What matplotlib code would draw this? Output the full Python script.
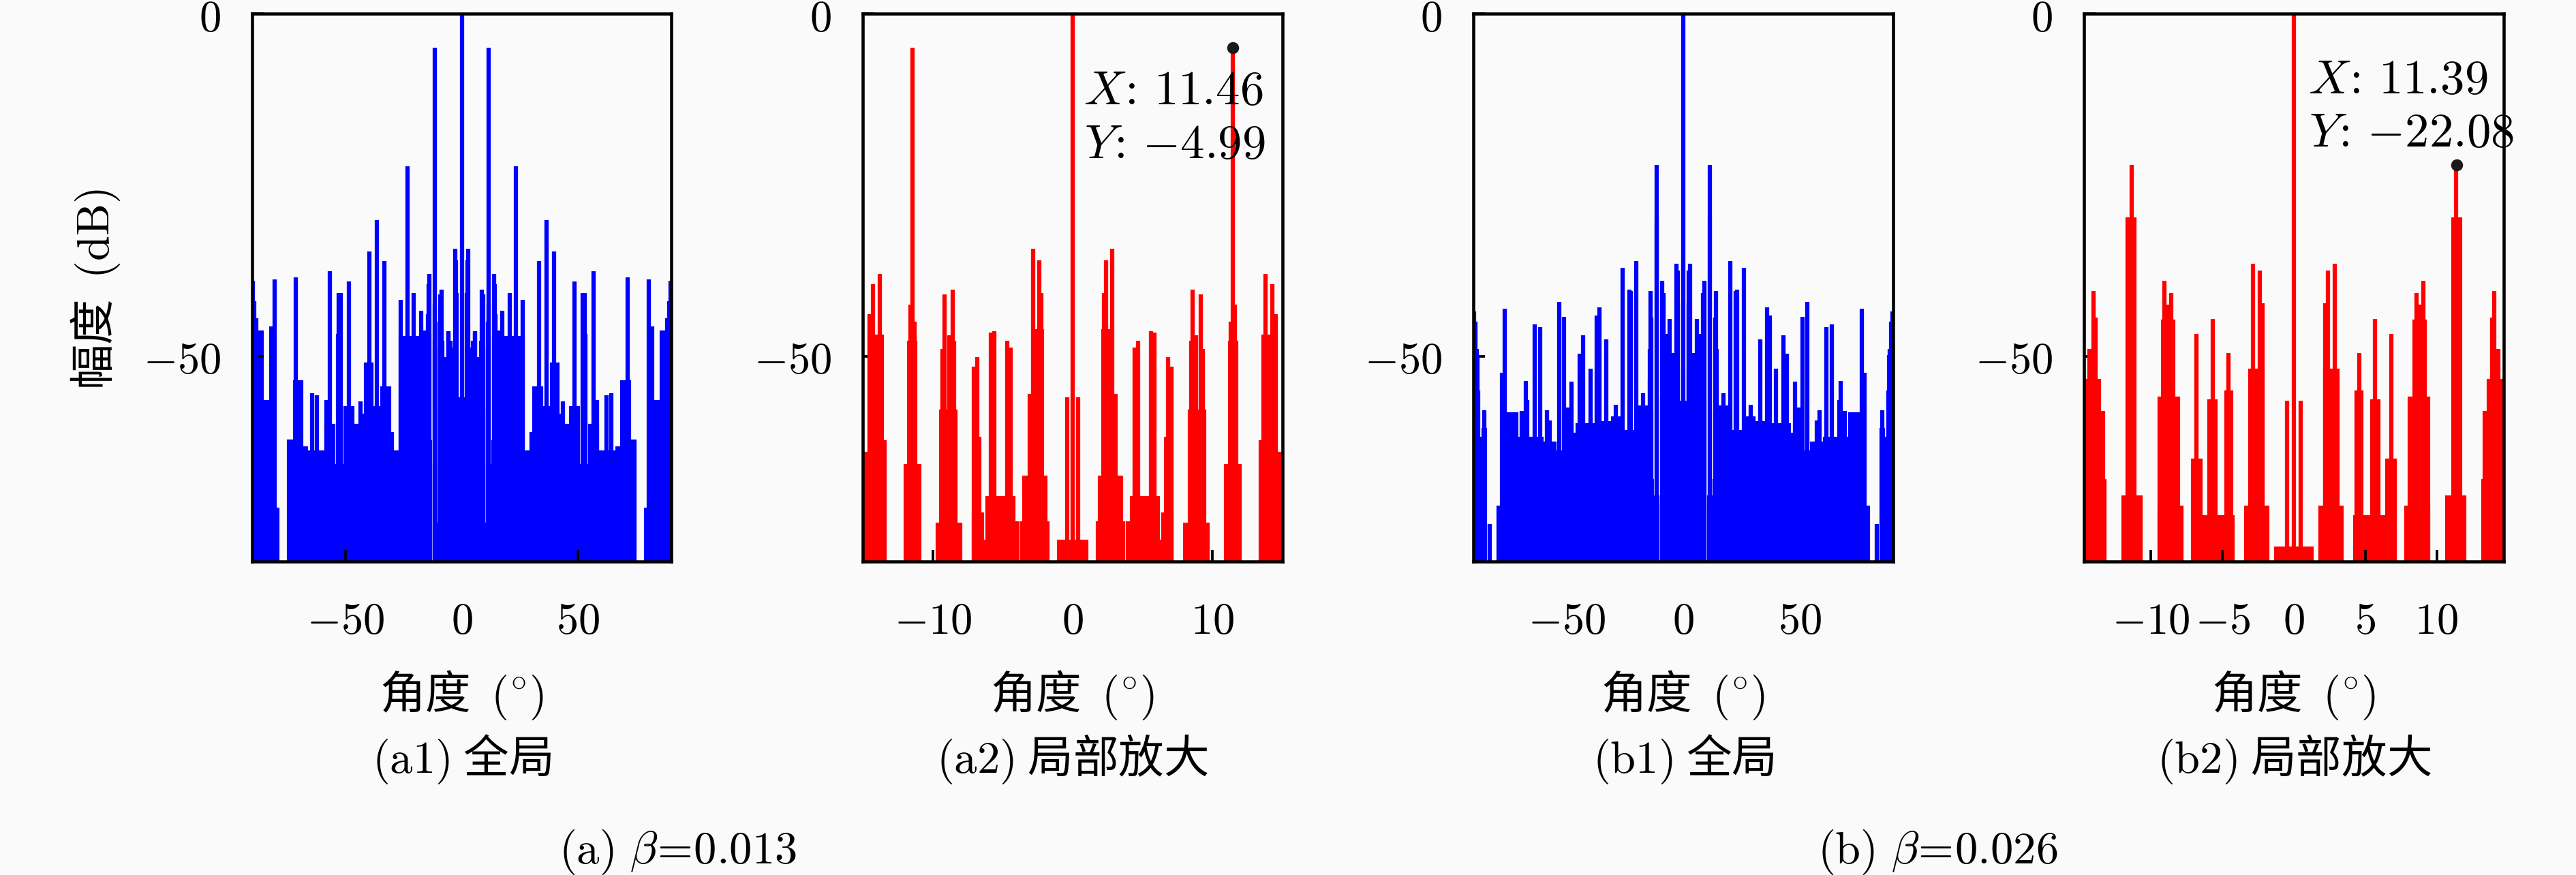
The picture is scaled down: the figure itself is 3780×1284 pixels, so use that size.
import numpy as np
import matplotlib
matplotlib.use('Agg')
import matplotlib.pyplot as plt

plt.rcParams['font.family'] = ['Noto Sans CJK SC', 'DejaVu Sans']
plt.rcParams['mathtext.fontset'] = 'cm'

# ---------------- data: beta = 0.013 ----------------
a_spike_deg = [
    -89.8, -89.0, -88.2, -83.3, -80.4, -71.4, -64.3, -62.2, -58.2, -56.6, -52.9, -52.0,
    -48.3, -43.6, -42.5, -39.7, -36.5, -33.2, -30.0, -26.1, -23.3, -20.5, -17.3, -16.2,
    -14.5, -14.26, -13.77, -11.6, -11.46, -11.3, -9.3, -9.15, -8.82, -8.58, -8.45,
    -7.04, -6.8, -5.82, -5.58, -4.69, -4.44, -2.82, -2.38, -2.25, -0.39, 0.0,
    0.39, 2.25, 2.38, 2.82, 4.44, 4.69, 5.58, 5.82, 6.8, 7.04, 8.45, 8.58, 8.82,
    9.15, 9.3, 11.3, 11.46, 11.6, 13.77, 14.26, 14.5,
    16.2, 17.3, 20.5, 23.3, 26.1, 30.0, 33.2, 36.5, 39.7, 42.5, 43.6, 48.3,
    52.0, 52.9, 56.6, 58.2, 62.2, 64.3, 71.4, 80.4, 83.3, 88.2, 89.0, 89.8]
a_spike_db = [
    -39.0, -42.0, -44.5, -56.4, -38.8, -38.5, -55.4, -55.7, -56.4, -37.6, -40.8, -40.8,
    -39.1, -56.6, -58.4, -34.7, -30.1, -36.1, -61.1, -41.8, -22.3, -40.8, -43.4, -46.3,
    -43.9, -39.5, -38.0, -42.5, -4.99, -45.0, -49.0, -41.0, -47.0, -40.3, -47.8,
    -51.5, -50.1, -46.6, -46.4, -47.8, -48.8, -34.3, -36.0, -40.8, -56.0, 0.0,
    -56.0, -40.8, -36.0, -34.3, -48.8, -47.8, -46.4, -46.6, -50.1, -51.5, -47.8, -40.3, -47.0,
    -41.0, -49.0, -45.0, -4.99, -42.5, -38.0, -39.5, -43.9,
    -46.3, -43.4, -40.8, -22.3, -41.8, -61.1, -36.1, -30.1, -34.7, -58.4, -56.6, -39.1,
    -40.8, -40.8, -37.6, -56.4, -55.7, -55.4, -38.5, -38.8, -56.4, -44.5, -42.0, -39.0]

a_block_lo = [
    -90.0, -85.6, -82.2, -80.2, -74.4, -72.0, -68.6, -66.6, -58.5, -55.0, -53.5, -50.2,
    -46.6, -41.3, -38.4, -34.5, -31.0, -26.6,
    -14.9, -14.57, -13.6, -12.0, -11.75, -9.7, -9.45, -7.12, -7.05, -6.4, -6.15,
    -5.15, -4.2, -3.63, -3.5, -3.1, -2.7, -1.0,
    2.15, 2.6, 1.9, 1.77, 3.9, 4.2, 5.3, 6.15, 6.6, 6.45, 8.35, 8.0, 11.2, 10.9,
    13.37, 13.6, 14.57,
    15.2, 26.6, 31.0, 34.5, 38.4, 41.3, 46.6, 52.0, 50.2, 55.0, 57.6, 66.6, 68.6,
    72.0, 79.0, 80.2, 84.0, 85.6]
a_block_hi = [
    -85.6, -84.0, -80.2, -79.0, -72.0, -68.6, -66.6, -57.6, -55.0, -50.2, -52.0, -46.6,
    -41.3, -38.4, -34.5, -31.0, -26.6, -15.2,
    -14.57, -13.6, -13.37, -10.9, -11.2, -8.0, -8.35, -6.45, -6.6, -6.15, -5.3,
    -4.2, -3.9, -1.77, -1.9, -2.6, -2.15, 1.0,
    2.7, 3.1, 3.5, 3.63, 4.2, 5.15, 6.15, 6.4, 7.05, 7.12, 9.45, 9.7, 11.75, 12.0,
    13.6, 14.57, 14.9,
    26.6, 31.0, 34.5, 38.4, 41.3, 46.6, 50.2, 53.5, 55.0, 58.5, 66.6, 68.6, 72.0,
    74.4, 80.2, 82.2, 85.6, 90.0]
a_block_db = [
    -46.5, -56.6, -45.9, -72.3, -62.4, -53.7, -63.4, -64.0, -60.1, -66.0, -47.0, -57.5,
    -60.1, -51.1, -57.5, -54.6, -64.0, -47.3,
    -64.2, -47.1, -62.5, -66.0, -48.0, -74.5, -58.0, -73.0, -62.0, -77.0, -70.6,
    -70.6, -74.3, -74.3, -67.7, -55.7, -46.3, -77.0,
    -46.3, -55.7, -67.7, -74.3, -74.3, -70.6, -70.6, -77.0, -62.0, -73.0, -58.0, -74.5,
    -48.0, -66.0, -62.5, -47.1, -64.2,
    -47.3, -64.0, -54.6, -57.5, -51.1, -60.1, -57.5, -47.0, -66.0, -60.1, -64.0, -63.4,
    -53.7, -62.4, -72.3, -45.9, -56.6, -46.5]

# ---------------- data: beta = 0.026 ----------------
b_spike_deg = [
    -89.7, -89.1, -88.5, -88.0, -85.4, -83.0, -77.6, -76.6, -73.7, -71.3, -69.3, -67.4,
    -66.8, -63.7, -61.5, -58.5, -57.3, -53.1, -51.2, -49.4, -48.0, -44.5, -42.9, -39.6,
    -37.2, -36.0, -33.1, -28.9, -26.0, -23.1, -22.6, -20.3, -18.0, -17.2,
    -14.3, -14.03, -13.87, -11.38, -9.08, -8.82, -8.59, -6.81, -5.70, -4.59,
    -2.84, -2.37, -2.2, -0.46, 0.0,
    0.46, 2.2, 2.37, 2.84, 4.59, 5.70, 6.81, 8.59, 8.82, 9.08, 11.38, 13.87, 14.03, 14.3,
    17.2, 18.0, 20.3, 22.6, 23.1, 26.0, 28.9, 33.1, 36.0, 37.2, 39.6, 42.9, 44.5,
    48.0, 49.4, 51.2, 53.1, 57.3, 58.5, 61.5, 63.7, 66.8, 67.4, 69.3, 71.3, 73.7,
    76.6, 77.6, 83.0, 85.4, 88.0, 88.5, 89.1, 89.7]
b_spike_db = [
    -43.5, -45.0, -49.0, -55.0, -57.9, -74.5, -52.4, -43.1, -58.4, -62.4, -58.0, -53.6,
    -56.4, -45.4, -45.8, -57.9, -59.4, -42.1, -44.3, -57.5, -53.7, -49.7, -47.0, -51.8,
    -44.1, -42.9, -47.6, -57.1, -37.1, -40.3, -40.5, -36.1, -57.4, -55.4,
    -49.0, -40.5, -44.4, -22.08, -39.0, -42.5, -40.8, -46.8, -44.6, -49.6,
    -36.5, -37.5, -42.3, -56.5, 0.0,
    -56.5, -42.3, -37.5, -36.5, -49.6, -44.6, -46.8, -40.8, -42.5, -39.0, -22.08, -44.4, -40.5, -49.0,
    -55.4, -57.4, -36.1, -40.5, -40.3, -37.1, -57.1, -47.6, -42.9, -44.1, -51.8, -47.0, -49.7,
    -53.7, -57.5, -44.3, -42.1, -59.4, -57.9, -45.8, -45.4, -56.4, -53.6, -58.0, -62.4, -58.4,
    -43.1, -52.4, -74.5, -57.9, -55.0, -49.0, -45.0, -43.5]

b_block_lo = [
    -90.0, -88.0, -86.0, -79.5, -75.7, -71.3, -60.5, -55.0, -50.0, -45.5, -35.0, -30.5,
    -27.5, -19.0,
    -14.6, -13.6, -13.3, -12.0, -11.7, -9.43, -9.43, -9.2, -7.13, -6.33, -5.95,
    -5.06, -4.75, -3.4, -3.1, -1.3,
    2.15, 1.8, 4.35, 4.27, 5.45, 5.22, 6.49, 8.4, 8.05, 7.84, 11.14, 10.7,
    13.2, 13.3, 13.6,
    15.0, 19.0, 27.5, 30.5, 35.0, 45.5, 50.0, 55.0, 60.5, 71.3, 74.2, 84.8, 86.0, 88.0]
b_block_hi = [
    -88.0, -86.0, -84.8, -74.2, -71.3, -60.5, -55.0, -50.0, -45.5, -35.0, -30.5, -27.5,
    -19.0, -15.0,
    -13.6, -13.3, -13.2, -10.7, -11.14, -7.84, -8.05, -8.4, -6.49, -5.22, -5.45,
    -4.27, -4.35, -1.8, -2.15, 1.3,
    3.1, 3.4, 4.75, 5.06, 5.95, 6.33, 7.13, 9.2, 9.43, 9.43, 11.7, 12.0,
    13.3, 13.6, 14.6,
    19.0, 27.5, 30.5, 35.0, 45.5, 50.0, 55.0, 60.5, 71.3, 75.7, 79.5, 86.0, 88.0, 90.0]
b_block_db = [
    -50.0, -62.0, -60.7, -72.0, -58.4, -62.0, -62.7, -64.0, -61.4, -60.0, -59.7, -59.0,
    -61.0, -57.4,
    -53.5, -58.2, -68.2, -70.5, -30.0, -72.0, -56.1, -44.9, -65.2, -73.4, -56.5,
    -73.4, -55.2, -72.0, -52.0, -78.0,
    -52.0, -72.0, -55.2, -73.4, -56.5, -73.4, -65.2, -44.9, -56.1, -72.0, -30.0, -70.5,
    -68.2, -58.2, -53.5,
    -57.4, -61.0, -59.0, -59.7, -60.0, -61.4, -64.0, -62.7, -62.0, -58.4, -72.0, -60.7,
    -62.0, -50.0]

# data tips
a_tip = (11.46, -4.99)
b_tip = (11.39, -22.08)

y_ticks = [-50, 0]
y_ticklabels = ['$-50$', '$0$']
full_ticks = [-50, 0, 50]
full_ticklabels = ['$-50$', '$0$', '$50$']
a2_ticks = [-10, 0, 10]
a2_ticklabels = ['$-10$', '$0$', '$10$']
b2_ticks = [-10, -5, 0, 5, 10]
b2_ticklabels = ['$-10$', '$-5$', '$0$', '$5$', '$10$']

FLOOR = -80.0
BG = '#fafafa'
BLUE = '#0000ff'
RED = '#ff0000'

fig = plt.figure(figsize=(12.6, 4.28), dpi=300)
fig.patch.set_facecolor(BG)

W = 3780.0
H = 1284.0
ax_bottom = 1 - 824 / H
ax_height = (824 - 20) / H
lefts = [370, 1266, 2162, 3058]
widths = [615, 616, 616, 616]


def draw(ax, sdeg, sdb, blo, bhi, bdb, color):
    blo = np.asarray(blo)
    bhi = np.asarray(bhi)
    bdb = np.asarray(bdb)
    ax.bar(blo, bdb - FLOOR, width=bhi - blo, bottom=FLOOR, align='edge',
           color=color, edgecolor=color, linewidth=1.0, zorder=1)
    ax.vlines(sdeg, FLOOR, sdb, color=color, linewidth=1.5, zorder=2)


axes = []
for i in range(4):
    ax = fig.add_axes([lefts[i] / W, ax_bottom, widths[i] / W, ax_height])
    ax.set_facecolor(BG)
    axes.append(ax)

cfg = [
    (a_spike_deg, a_spike_db, a_block_lo, a_block_hi, a_block_db, BLUE, (-90, 90), full_ticks, full_ticklabels),
    (a_spike_deg, a_spike_db, a_block_lo, a_block_hi, a_block_db, RED, (-15, 15), a2_ticks, a2_ticklabels),
    (b_spike_deg, b_spike_db, b_block_lo, b_block_hi, b_block_db, BLUE, (-90, 90), full_ticks, full_ticklabels),
    (b_spike_deg, b_spike_db, b_block_lo, b_block_hi, b_block_db, RED, (-14.7, 14.7), b2_ticks, b2_ticklabels),
]

for ax, (sd, sb, bl, bh, bd, col, xl, xt, xtl) in zip(axes, cfg):
    draw(ax, sd, sb, bl, bh, bd, col)
    ax.set_xlim(*xl)
    ax.set_ylim(FLOOR, 0)
    ax.set_xticks(xt)
    ax.set_xticklabels(xtl)
    ax.set_yticks(y_ticks)
    ax.set_yticklabels(y_ticklabels)
    ax.tick_params(axis='both', direction='in', length=4, width=0.9,
                   labelsize=15.5, top=False, right=False)
    ax.tick_params(axis='x', pad=13)
    ax.tick_params(axis='y', pad=11)
    for s in ax.spines.values():
        s.set_linewidth(1.1)
        s.set_color('black')

# data tips
axes[1].plot([a_tip[0]], [a_tip[1]], 'o', color='#1a1a1a', ms=3.2, zorder=5, clip_on=False)
axes[1].text(0.78, -11.2, r'$X\!\mathrm{:}\,%.2f$' % a_tip[0], fontsize=17, va='center', ha='left', zorder=6)
axes[1].text(0.85, -19.1, r'$Y\!\mathrm{:}\,{-}%.2f$' % abs(a_tip[1]), fontsize=17, va='center', ha='left', zorder=6)
axes[3].plot([b_tip[0]], [b_tip[1]], 'o', color='#1a1a1a', ms=3.2, zorder=5, clip_on=False)
axes[3].text(1.0, -9.6, r'$X\!\mathrm{:}\,%.2f$' % b_tip[0], fontsize=17, va='center', ha='left', zorder=6)
axes[3].text(1.07, -17.4, r'$Y\!\mathrm{:}\,{-}%.2f$' % abs(b_tip[1]), fontsize=17, va='center', ha='left', zorder=6)

# y label
fig.text(140 / W, 1 - 425 / H, r'幅度  $\mathrm{(dB)}$', rotation=90, fontsize=16,
         ha='center', va='center')

subcaps = [r'$\mathrm{(a1)}$ 全局', r'$\mathrm{(a2)}$ 局部放大',
           r'$\mathrm{(b1)}$ 全局', r'$\mathrm{(b2)}$ 局部放大']
for i in range(4):
    cx = (lefts[i] + widths[i] / 2) / W
    fig.text(cx, 1 - 1020 / H, r'角度  $(^{\circ})$', fontsize=16, ha='center', va='center')
    fig.text(cx, 1 - 1114 / H, subcaps[i], fontsize=16, ha='center', va='center')

fig.text(994 / W, 1 - 1250 / H, r'$\mathrm{(a)}\ \beta\!=\!\mathrm{0.013}$', fontsize=16,
         ha='center', va='center')
fig.text(2843 / W, 1 - 1250 / H, r'$\mathrm{(b)}\ \beta\!=\!\mathrm{0.026}$', fontsize=16,
         ha='center', va='center')

fig.savefig('out.png', dpi=300, facecolor=BG)
